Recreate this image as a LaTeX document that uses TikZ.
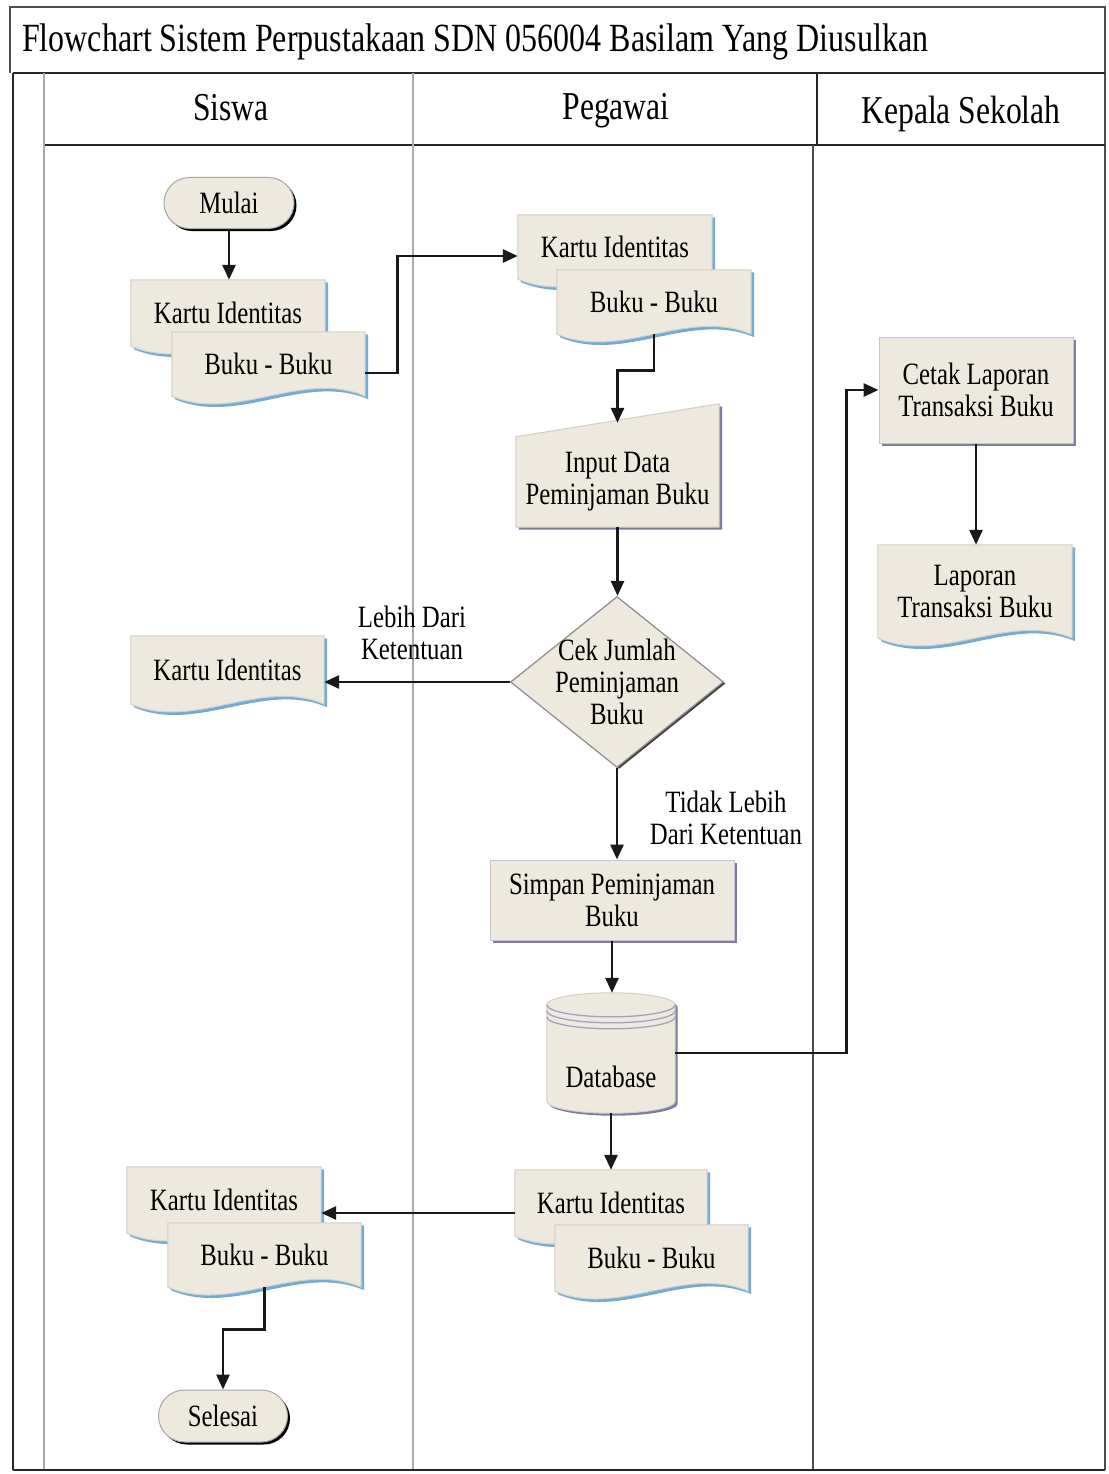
\documentclass[tikz,border=0pt]{standalone}
\usepackage{fontspec}
\setmainfont{Liberation Serif}[FakeStretch=0.8]
\usetikzlibrary{shapes.geometric,shapes.misc,arrows.meta,calc,shadows}
\pgfdeclarelayer{bg}
\pgfsetlayers{bg,main}

\definecolor{paper}{RGB}{238,233,222}
\definecolor{paperline}{RGB}{212,206,194}
\definecolor{docedge}{RGB}{112,172,214}
\definecolor{procedge}{RGB}{128,122,160}
\definecolor{laneline}{RGB}{170,170,170}

\tikzset{
  txt/.style={font=\fontsize{31}{32}\selectfont, align=center, inner sep=0pt, text=black},
  hdr/.style={font=\fontsize{39.5}{42}\selectfont, inner sep=0pt, text=black},
  ttl/.style={font=\fontsize{40}{44}\selectfont, inner sep=0pt, text=black},
  docnode/.style={txt, rectangle, minimum width=#1},
  terminal/.style={txt, rounded rectangle, fill=paper, draw=black!35, line width=1pt,
    drop shadow={shadow xshift=2.5pt, shadow yshift=-2.5pt, fill=black, opacity=1}},
  procbox/.style={txt, rectangle, fill=paper, draw=procedge!45, line width=1pt,
    drop shadow={shadow xshift=3pt, shadow yshift=-2.5pt, fill=procedge, opacity=1}},
  decision/.style={diamond, fill=paper, draw=black!45, line width=1.2pt, inner sep=0pt,
    drop shadow={shadow xshift=2pt, shadow yshift=-1.5pt, fill=black!75, opacity=1}},
  paperfill/.style={fill=paper, draw=paperline, line width=1pt},
  flow/.style={line width=2.8pt, draw=black!90, -{Triangle[length=15pt,width=13pt]}},
  frame/.style={draw=black!85, line width=2.4pt},
  lane/.style={draw=laneline, line width=1.2pt}
}

% document symbol with a wavy lower edge, drawn around a node
\newcommand\drawdoc[1]{%
  \fill[docedge] let \p1=(#1.north west), \p2=(#1.south east), \n1={\x2-\x1} in
    (\x1+3,\y1-2.5) -- (\x2+3,\y1-2.5) -- (\x2+3,\y2-3)
    .. controls (\x2-0.33*\n1+3,\y2+24) and (\x2-0.67*\n1+3,\y2-30) .. (\x1+3,\y2-3) -- cycle;
  \filldraw[paperfill] let \p1=(#1.north west), \p2=(#1.south east), \n1={\x2-\x1} in
    (\x1,\y1) -- (\x2,\y1) -- (\x2,\y2)
    .. controls (\x2-0.33*\n1,\y2+27) and (\x2-0.67*\n1,\y2-27) .. (\x1,\y2) -- cycle;
}
% manual input symbol (slanted top edge)
\newcommand\drawmanual[1]{%
  \fill[procedge] let \p1=(#1.north west), \p2=(#1.south east) in
    (\x1+3,\y1-2.5) -- (\x2+3,\y1+30.5) -- (\x2+3,\y2-2.5) -- (\x1+3,\y2-2.5) -- cycle;
  \filldraw[paperfill] let \p1=(#1.north west), \p2=(#1.south east) in
    (\x1,\y1) -- (\x2,\y1+33) -- (\x2,\y2) -- (\x1,\y2) -- cycle;
}
% stored data cylinder
\newcommand\drawdb[1]{%
  \fill[procedge] let \p1=(#1.north west), \p2=(#1.south east), \n2={(\x2-\x1)/2} in
    (\x1+2.5,\y1-12-2.5) -- (\x1+2.5,\y2+12-2.5)
    arc[start angle=180, end angle=360, x radius=\n2, y radius=12pt]
    -- (\x2+2.5,\y1-12-2.5)
    arc[start angle=0, end angle=180, x radius=\n2, y radius=12pt] -- cycle;
  \filldraw[paperfill] let \p1=(#1.north west), \p2=(#1.south east), \n2={(\x2-\x1)/2} in
    (\x1,\y1-12) -- (\x1,\y2+12)
    arc[start angle=180, end angle=360, x radius=\n2, y radius=12pt]
    -- (\x2,\y1-12)
    arc[start angle=0, end angle=180, x radius=\n2, y radius=12pt] -- cycle;
  \draw[procedge!70, line width=1.3pt] let \p1=(#1.north west), \p2=(#1.south east), \n2={(\x2-\x1)/2} in
    (\x1,\y1-12) arc[start angle=180, end angle=360, x radius=\n2, y radius=12pt]
    (\x1,\y1-18) arc[start angle=180, end angle=360, x radius=\n2, y radius=12pt]
    (\x1,\y1-24) arc[start angle=180, end angle=360, x radius=\n2, y radius=12pt];
}

\begin{document}
\begin{tikzpicture}[x=1pt, y=1pt]
\useasboundingbox (0,0) rectangle (1108,-1474);
\begin{pgfonlayer}{bg}
  \fill[white] (0,0) rectangle (1108,-1474);
\end{pgfonlayer}

% ---- swimlane frame ----
\draw[draw=black!70, line width=1.4pt] (10,-73) -- (10,-7) -- (1105,-7) -- (1105,-1470);
\draw[frame] (13,-73) -- (1105,-73);
\draw[frame] (44,-145) -- (1105,-145);
\draw[frame] (13,-73) -- (13,-1470);
\draw[lane] (44,-73) -- (44,-1470);
\draw[lane] (413,-73) -- (413,-1470);
\draw[frame] (817,-73) -- (817,-145);
\draw[draw=black!70, line width=1.5pt] (813,-145) -- (813,-1470);
\draw[frame] (13,-1470) -- (1105,-1470);

\node[ttl, anchor=west] (title) at (22,-42) {Flowchart Sistem Perpustakaan SDN 056004 Basilam Yang Diusulkan};
\node[hdr] (hsiswa) at (231,-108) {Siswa};
\node[hdr] (hpegawai) at (616,-111) {Pegawai};
\node[hdr] (hkepala) at (961,-114) {Kepala Sekolah};

% ---- symbols ----
\node[terminal, minimum width=130pt, minimum height=51pt] (mulai) at (229,-203) {Mulai};

\node[docnode=194pt, minimum height=66pt] (m1a) at (228,-313) {Kartu Identitas};
\node[docnode=193pt, minimum height=64pt] (m1b) at (268.5,-364) {Buku - Buku};

\node[docnode=194pt, minimum height=64pt] (m2a) at (615,-247) {Kartu Identitas};
\node[docnode=194pt, minimum height=64pt] (m2b) at (654,-302) {Buku - Buku};

\node[txt, minimum width=203pt, minimum height=90pt] (input) at (617.5,-482) {Input Data\\Peminjaman Buku};

\node[decision, minimum width=213pt, minimum height=171pt] (cek) at (617,-682) {};
\node[txt] (cektext) at (cek) {Cek Jumlah\\Peminjaman\\Buku};

\node[docnode=193pt, minimum height=68pt] (kartu) at (227.5,-670) {Kartu Identitas};
\node[txt] (lebih) at (412,-633) {Lebih Dari\\Ketentuan};
\node[txt] (tidak) at (726,-818) {Tidak Lebih\\Dari Ketentuan};

\node[procbox, minimum width=244pt, minimum height=80pt] (simpan) at (612,-900) {Simpan Peminjaman\\Buku};

\node[minimum width=128pt, minimum height=120pt, inner sep=0pt] (db) at (611,-1053) {};
\node[txt] (dbtext) at (611,-1077) {Database};

\node[procbox, minimum width=194pt, minimum height=106pt] (cetak) at (976,-390) {Cetak Laporan\\Transaksi Buku};
\node[docnode=194pt, minimum height=93pt] (laporan) at (975,-591.5) {Laporan\\Transaksi Buku};

\node[docnode=192pt, minimum height=66pt] (m3a) at (611,-1203) {Kartu Identitas};
\node[docnode=193pt, minimum height=66pt] (m3b) at (651.5,-1258) {Buku - Buku};

\node[docnode=194pt, minimum height=66pt] (m4a) at (224,-1200) {Kartu Identitas};
\node[docnode=193pt, minimum height=64pt] (m4b) at (264.5,-1255) {Buku - Buku};

\node[terminal, minimum width=129pt, minimum height=52pt] (selesai) at (223,-1416) {Selesai};

% ---- symbol outlines behind the texts ----
\begin{pgfonlayer}{bg}
  \drawdoc{m1a} \drawdoc{m1b}
  \drawdoc{m2a} \drawdoc{m2b}
  \drawmanual{input}
  \drawdoc{kartu}
  \drawdb{db}
  \drawdoc{laporan}
  \drawdoc{m3a} \drawdoc{m3b}
  \drawdoc{m4a} \drawdoc{m4b}
\end{pgfonlayer}

% ---- connectors ----
\draw[flow] (mulai.south) -- (mulai.south |- m1a.north);
\draw[flow] ([yshift=-9pt]m1b.east) -- ++(32,0) |- ([yshift=-9pt]m2a.west);
\draw[flow] (m2b.south) -- ++(0,-36) -| ([yshift=14pt]input.north);
\draw[flow] (input.south) -- (input.south |- cek.north);
\draw[flow] (cek.west) -- (cek.west -| kartu.east);
\draw[flow] (cek.south) -- (cek.south |- simpan.north);
\draw[flow] (simpan.south) -- (simpan.south |- db.north);
\draw[flow] (db.east) -- ++(171,0) |- (cetak.west);
\draw[flow] (cetak.south) -- (cetak.south |- laporan.north);
\draw[flow] (db.south) -- (db.south |- m3a.north);
\draw[flow] ([yshift=-10pt]m3a.west) -- ([yshift=-10pt]m3a.west -| m4a.east);
\draw[flow] (m4b.south) -- ++(0,-42) -| (selesai.north);
\end{tikzpicture}
\end{document}
